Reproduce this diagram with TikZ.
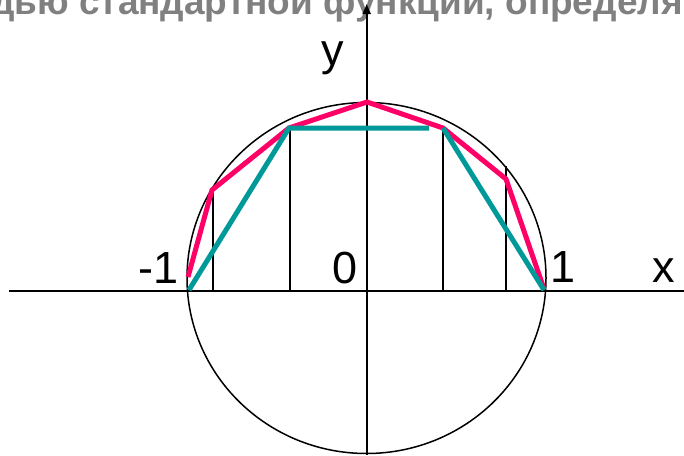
\documentclass[tikz,border=0pt]{standalone}
\usepackage{fontspec}
\setmainfont{Liberation Sans}
\usetikzlibrary{arrows.meta}

\definecolor{titlegray}{RGB}{128,128,128}
\definecolor{pinkline}{RGB}{255,0,102}
\definecolor{tealline}{RGB}{0,153,153}

\tikzset{
  thinline/.style={line width=1.5pt, black},
  axisline/.style={line width=2pt, black},
  redpoly/.style={line width=5pt, pinkline},
  tealpoly/.style={line width=5pt, tealline},
  axislabel/.style={font=\fontsize{45}{54}\selectfont, inner sep=0pt, anchor=base}
}

\begin{document}
\begin{tikzpicture}[x=1pt, y=-1pt]
  \useasboundingbox (0,0) rectangle (684,455);

  % заголовок (обрезан краями)
  \node[font=\fontsize{37}{44}\selectfont\bfseries, text=titlegray, anchor=base west, inner sep=0pt]
    (title) at (-9,14) {дью стандартной функции, определя};

  % оси
  \coordinate (xl) at (9,291);
  \coordinate (xr) at (684,291);
  \coordinate (yb) at (366.7,455);
  \coordinate (yt) at (366.7,4);
  \draw[axisline] (xl) -- (xr);
  \draw[axisline, -{Triangle[length=10pt, width=8pt]}] (yb) -- (yt);

  % окружность
  \coordinate (c) at (366.5,278);
  \draw[thinline] (c) ellipse [x radius=179.5, y radius=175.5];

  % вертикальные отрезки
  \foreach \n/\x/\y in {a/213/190, b/290/128, c/443/128, d/506/166} {
    \coordinate (v\n) at (\x,\y);
    \coordinate (f\n) at (\x,291);
    \draw[thinline] (f\n) -- (v\n);
  }

  % ломаная (красная)
  \foreach \i/\x/\y in {0/188/277, 1/212/190, 2/289/128, 3/367/102, 4/443/128, 5/506/179, 6/544/289} {
    \coordinate (r\i) at (\x,\y);
  }
  \draw[redpoly] (r0) -- (r1) -- (r2) -- (r3) -- (r4) -- (r5) -- (r6);

  % ломаная (бирюзовая)
  \foreach \i/\x/\y in {0/189/290, 1/289/128, 2/429/128, 3/443/128, 4/544/290} {
    \coordinate (t\i) at (\x,\y);
  }
  \draw[tealpoly] (t0) -- (t1) -- (t2);
  \draw[tealpoly] (t3) -- (t4);

  % подписи
  \node[axislabel, anchor=base east] (lm1) at (179,283) {-1};
  \node[axislabel] (lzero) at (345.5,283) {0};
  \node[axislabel] (lone) at (563,282) {1};
  \node[axislabel] (lx) at (663.5,282) {x};
  \node[axislabel] (ly) at (332.5,65) {y};
\end{tikzpicture}
\end{document}
